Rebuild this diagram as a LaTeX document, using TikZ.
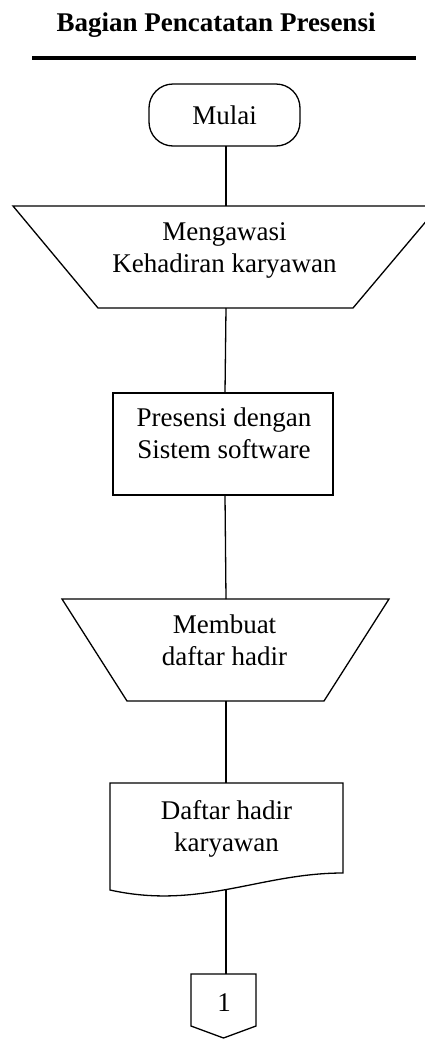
\documentclass[tikz,border=0pt]{standalone}
\usepackage{fontspec}
\setmainfont{Liberation Serif}
\tikzset{
  shapeline/.style={draw=black, line width=1.3pt, line join=miter},
  conn/.style={draw=black, line width=1.3pt},
  txt/.style={inner sep=0pt, align=center, font=\fontsize{27}{32}\selectfont},
  ttl/.style={inner sep=0pt, font=\fontsize{27}{32}\selectfont\bfseries}
}
\begin{document}
\begin{tikzpicture}[x=1pt,y=-1pt]
\clip (0,0) rectangle (425,1039);
\useasboundingbox (0,0) rectangle (425,1039);
% title
\node[ttl] (title) at (216,25) {Bagian Pencatatan Presensi};
\draw[line width=3.5pt] (32,58) -- (416,58);
% start
\draw[shapeline, rounded corners=24pt] (149,84) rectangle (300,146);
\node[txt] (mulai) at (224.5,115) {Mulai};
\coordinate (mulaiB) at (226,146);
% manual operation 1
\draw[shapeline] (13,206) -- (439,206) -- (353,308) -- (98,308) -- cycle;
\node[txt] (awasi) at (224.5,250.5) {Mengawasi\\Kehadiran karyawan};
\coordinate (awasiT) at (226,206);
\coordinate (awasiB) at (226,308);
% process
\draw[shapeline] (113,393) rectangle (333,495);
\node[txt] (proses) at (224,433) {Presensi dengan\\Sistem software};
\coordinate (prosesT) at (225,393);
\coordinate (prosesB) at (225,495);
% manual operation 2
\draw[shapeline] (62,599) -- (389,599) -- (324,701) -- (127,701) -- cycle;
\node[txt] (buat) at (224.5,640) {Membuat\\daftar hadir};
\coordinate (buatT) at (226,599);
\coordinate (buatB) at (226,701);
% document
\draw[shapeline] (110,890) -- (110,783) -- (343,783) -- (343,873)
  .. controls (260,873) and (200,910) .. (110,890) -- cycle;
\node[txt] (daftar) at (226.5,829) {Daftar hadir\\karyawan};
\coordinate (daftarT) at (226,783);
\coordinate (daftarB) at (226,889.5);
% off-page connector
\draw[shapeline] (191,974) -- (256,974) -- (256,1026) -- (223.5,1038) -- (191,1026) -- cycle;
\node[txt] (satu) at (224,1003) {1};
\coordinate (satuT) at (226,974);
% connectors
\draw[conn] (mulaiB) -- (awasiT);
\draw[conn] (awasiB) -- (prosesT);
\draw[conn] (prosesB) -- (buatT);
\draw[conn] (buatB) -- (daftarT);
\draw[conn] (daftarB) -- (satuT);
\end{tikzpicture}
\end{document}
